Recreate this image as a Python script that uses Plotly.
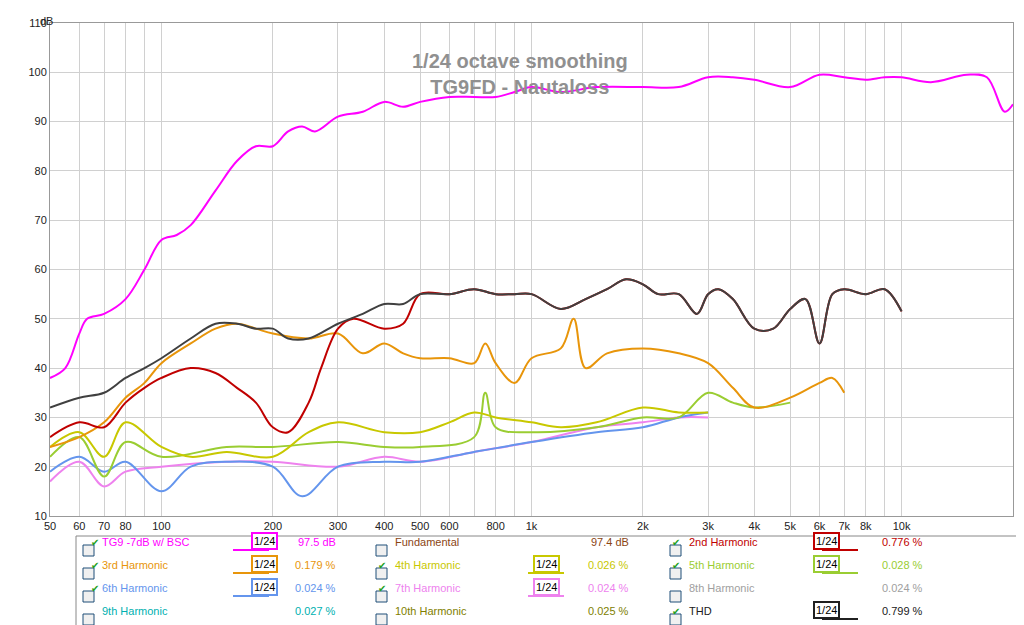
import plotly.graph_objects as go

# ---- data (Hz, dB) ----
f_main = [50, 55, 60, 63, 70, 80, 90, 100, 110, 120, 140, 160, 180, 200, 220, 240, 260, 300, 350, 400, 450, 500,
          600, 700, 800, 900, 1000, 1200, 1500, 2000, 2500, 3000, 3500, 4000, 5000, 6000, 7000, 8000, 9000, 10000,
          12000, 15000, 17000, 19000, 20000]
db_main = [38, 40, 47, 50, 51, 54, 60, 66, 67, 69, 76, 82, 85, 85, 88, 89, 88, 91, 92, 94, 93, 94,
           95, 95, 95, 96, 97, 96, 97, 97, 97, 99, 99, 98.5, 97, 99.5, 99, 98.5, 99, 99,
           98, 99.5, 99, 92, 93.5]

f_thd = [50, 60, 70, 80, 90, 100, 120, 140, 160, 180, 200, 220, 250, 300, 350, 400, 450, 500, 600, 700, 800, 900,
         1000, 1200, 1400, 1600, 1800, 2000, 2200, 2500, 2800, 3000, 3200, 3500, 4000, 4500, 5000, 5500, 6000,
         6500, 7000, 8000, 9000, 10000]
db_thd = [32, 34, 35, 38, 40, 42, 46, 49, 49, 48, 48, 46, 46, 49, 51, 53, 53, 55, 55, 56, 55, 55,
          55, 52, 54, 56, 58, 57, 55, 55, 51, 55, 56, 54, 48, 48, 52, 54, 45,
          55, 56, 55, 56, 51.5]

f_h2 = [50, 60, 70, 80, 90, 100, 120, 140, 160, 180, 200, 220, 250, 270, 300, 330, 400, 450, 500, 600, 700, 800,
        900, 1000, 1200, 1400, 1600, 1800, 2000, 2200, 2500, 2800, 3000, 3200, 3500, 4000, 4500, 5000, 5500,
        6000, 6500, 7000, 8000, 9000, 10000]
db_h2 = [26, 29, 28, 33, 36, 38, 40, 39, 36, 33, 28, 27, 33, 40, 48, 50, 48, 49, 55, 55, 56, 55,
         55, 55, 52, 54, 56, 58, 57, 55, 55, 51, 55, 56, 54, 48, 48, 52, 54,
         45, 55, 56, 55, 56, 51.5]

f_h3 = [50, 60, 70, 80, 90, 100, 120, 140, 160, 180, 200, 250, 300, 350, 400, 450, 500, 600, 700, 750, 800, 900,
        1000, 1200, 1300, 1400, 1600, 2000, 2500, 3000, 3500, 4000, 5000, 6000, 6500, 7000]
db_h3 = [24, 26, 29, 34, 37, 41, 45, 48, 49, 48, 47, 46, 47, 43, 45, 43, 42, 42, 41, 45, 41, 37,
         42, 44, 50, 40, 43, 44, 43, 41, 36, 32, 34, 37, 38, 35]

f_h4 = [50, 60, 70, 80, 100, 120, 150, 200, 250, 300, 400, 500, 600, 700, 800, 1000, 1200, 1500, 2000, 2500, 3000]
db_h4 = [24, 27, 22, 29, 24, 22, 23, 22, 27, 29, 27, 27, 29, 31, 30, 29, 28, 29, 32, 31, 31]

f_h5 = [50, 60, 70, 80, 100, 150, 200, 300, 400, 500, 700, 750, 800, 1000, 1500, 2000, 2500, 3000, 3500, 4000, 5000]
db_h5 = [22, 26, 18, 25, 22, 24, 24, 25, 24, 24, 26, 35, 28, 27, 28, 30, 30, 35, 33, 32, 33]

f_h6 = [50, 60, 70, 80, 100, 120, 150, 200, 240, 300, 400, 500, 700, 1000, 1500, 2000, 2500, 3000]
db_h6 = [19, 22, 19, 21, 15, 20, 21, 20, 14, 20, 21, 21, 23, 25, 27, 28, 30, 31]

f_h7 = [50, 60, 70, 80, 100, 150, 200, 300, 400, 500, 700, 1000, 1500, 2000, 2500, 3000]
db_h7 = [17, 21, 16, 19, 20, 21, 21, 20, 22, 21, 23, 25, 28, 29, 30, 30]

x_grid = [50, 60, 70, 80, 90, 100, 200, 300, 400, 500, 600, 700, 800, 900, 1000, 2000, 3000, 4000, 5000,
          6000, 7000, 8000, 9000, 10000, 20000]
x_text = ["50", "60", "70", "80", "", "100", "200", "300", "400", "500", "600", "", "800", "", "1k", "2k",
          "3k", "4k", "5k", "6k", "7k", "8k", "", "10k", "20.0k Hz"]

fig = go.Figure()
series = [
    (f_h7, db_h7, "#ee82ee"), (f_h6, db_h6, "#6495ed"), (f_h5, db_h5, "#9acd32"),
    (f_h4, db_h4, "#c8c800"), (f_h3, db_h3, "#e8950a"), (f_h2, db_h2, "#c00000"),
    (f_thd, db_thd, "#404040"), (f_main, db_main, "#ff00ff"),
]
for fx, fy, col in series:
    fig.add_trace(go.Scatter(x=fx, y=fy, mode="lines", line=dict(color=col, width=2, shape="spline"),
                             showlegend=False))

W, H = 1024, 625
L, R, T, B = 42, 19, 15, 117
pw, ph = W - L - R, H - T - B


def px(x):
    return (x - L) / pw


def py(y):
    return (H - B - y) / ph


# legend box
fig.add_shape(type="rect", xref="paper", yref="paper", x0=px(68), x1=px(1016), y0=py(528), y1=py(623),
              line=dict(color="#888", width=1), fillcolor="white")

rows = [542, 565, 588, 611]
legend = [
    # (col checkbox x, row, name, color, checked, badge x, value, value x)
    (80, 0, "TG9 -7dB w/ BSC", "#ff00ff", True, 243, "97.5 dB", 330),
    (373, 0, "Fundamental", "#8b4513", False, None, "97.4 dB", 623),
    (667, 0, "2nd Harmonic", "#c00000", True, 832, "0.776 %", 917),
    (80, 1, "3rd Harmonic", "#e8950a", True, 243, "0.179 %", 330),
    (373, 1, "4th Harmonic", "#c8c800", True, 538, "0.026 %", 623),
    (667, 1, "5th Harmonic", "#9acd32", True, 832, "0.028 %", 917),
    (80, 2, "6th Harmonic", "#6495ed", True, 243, "0.024 %", 330),
    (373, 2, "7th Harmonic", "#ee82ee", True, 538, "0.024 %", 623),
    (667, 2, "8th Harmonic", "#a0a0a0", False, None, "0.024 %", 917),
    (80, 3, "9th Harmonic", "#00b0b0", False, None, "0.027 %", 330),
    (373, 3, "10th Harmonic", "#808000", False, None, "0.025 %", 623),
    (667, 3, "THD", "#202020", True, 832, "0.799 %", 917),
]
for cx, r, name, col, chk, bx, val, vx in legend:
    yy = rows[r]
    fig.add_shape(type="rect", xref="paper", yref="paper", x0=px(cx - 5), x1=px(cx + 6), y0=py(yy + 6),
                  y1=py(yy - 5), line=dict(color="#1f4e79", width=1), fillcolor="#f0f0f0")
    if chk:
        fig.add_annotation(x=px(cx + 0.5), y=py(yy), xref="paper", yref="paper", text="✔", showarrow=False,
                           font=dict(color="#22a022", size=10))
    fig.add_annotation(x=px(cx + 12), y=py(yy), xref="paper", yref="paper", text=name, showarrow=False,
                       xanchor="left", font=dict(color=col, size=11, family="Liberation Sans"))
    fig.add_annotation(x=px(vx), y=py(yy), xref="paper", yref="paper", text=val, showarrow=False,
                       xanchor="right", font=dict(color=col, size=11, family="Liberation Sans"))
    if bx:
        fig.add_shape(type="line", xref="paper", yref="paper", x0=px(bx - 18), x1=px(bx + 18), y0=py(yy),
                      y1=py(yy), line=dict(color=col, width=2))
        fig.add_annotation(x=px(bx), y=py(yy), xref="paper", yref="paper", text="1/24", showarrow=False,
                           bgcolor="white", bordercolor=col, borderwidth=2, borderpad=1,
                           font=dict(color="black", size=11, family="Liberation Sans"))

fig.add_annotation(x=px(30), y=py(5), xref="paper", yref="paper", text="dB", showarrow=False,
                   font=dict(size=11, color="#222", family="Liberation Sans"))

# title
fig.add_annotation(x=px(512), y=py(40), xref="paper", yref="paper",
                   text="<b>1/24 octave smoothing<br>TG9FD - Nautaloss</b>", showarrow=False,
                   font=dict(size=20, color="#909090", family="Liberation Sans"))

fig.update_layout(
    width=W, height=H, margin=dict(l=L, r=R, t=T, b=B, autoexpand=False),
    paper_bgcolor="white", plot_bgcolor="white",
    font=dict(family="Liberation Sans", size=11, color="#222"),
)
fig.update_xaxes(type="log", range=[1.69897, 4.30103], tickvals=x_grid, ticktext=x_text, tickangle=0,
                 showgrid=True, gridcolor="#d0d0d0", showline=True, linecolor="#999", mirror=True, ticks="",
                 zeroline=False, automargin=False)
fig.update_yaxes(range=[10, 110], dtick=10, showgrid=True, gridcolor="#d0d0d0", showline=True,
                 linecolor="#999", mirror=True, zeroline=False, ticks="", automargin=False)

fig.write_html("out.html")
